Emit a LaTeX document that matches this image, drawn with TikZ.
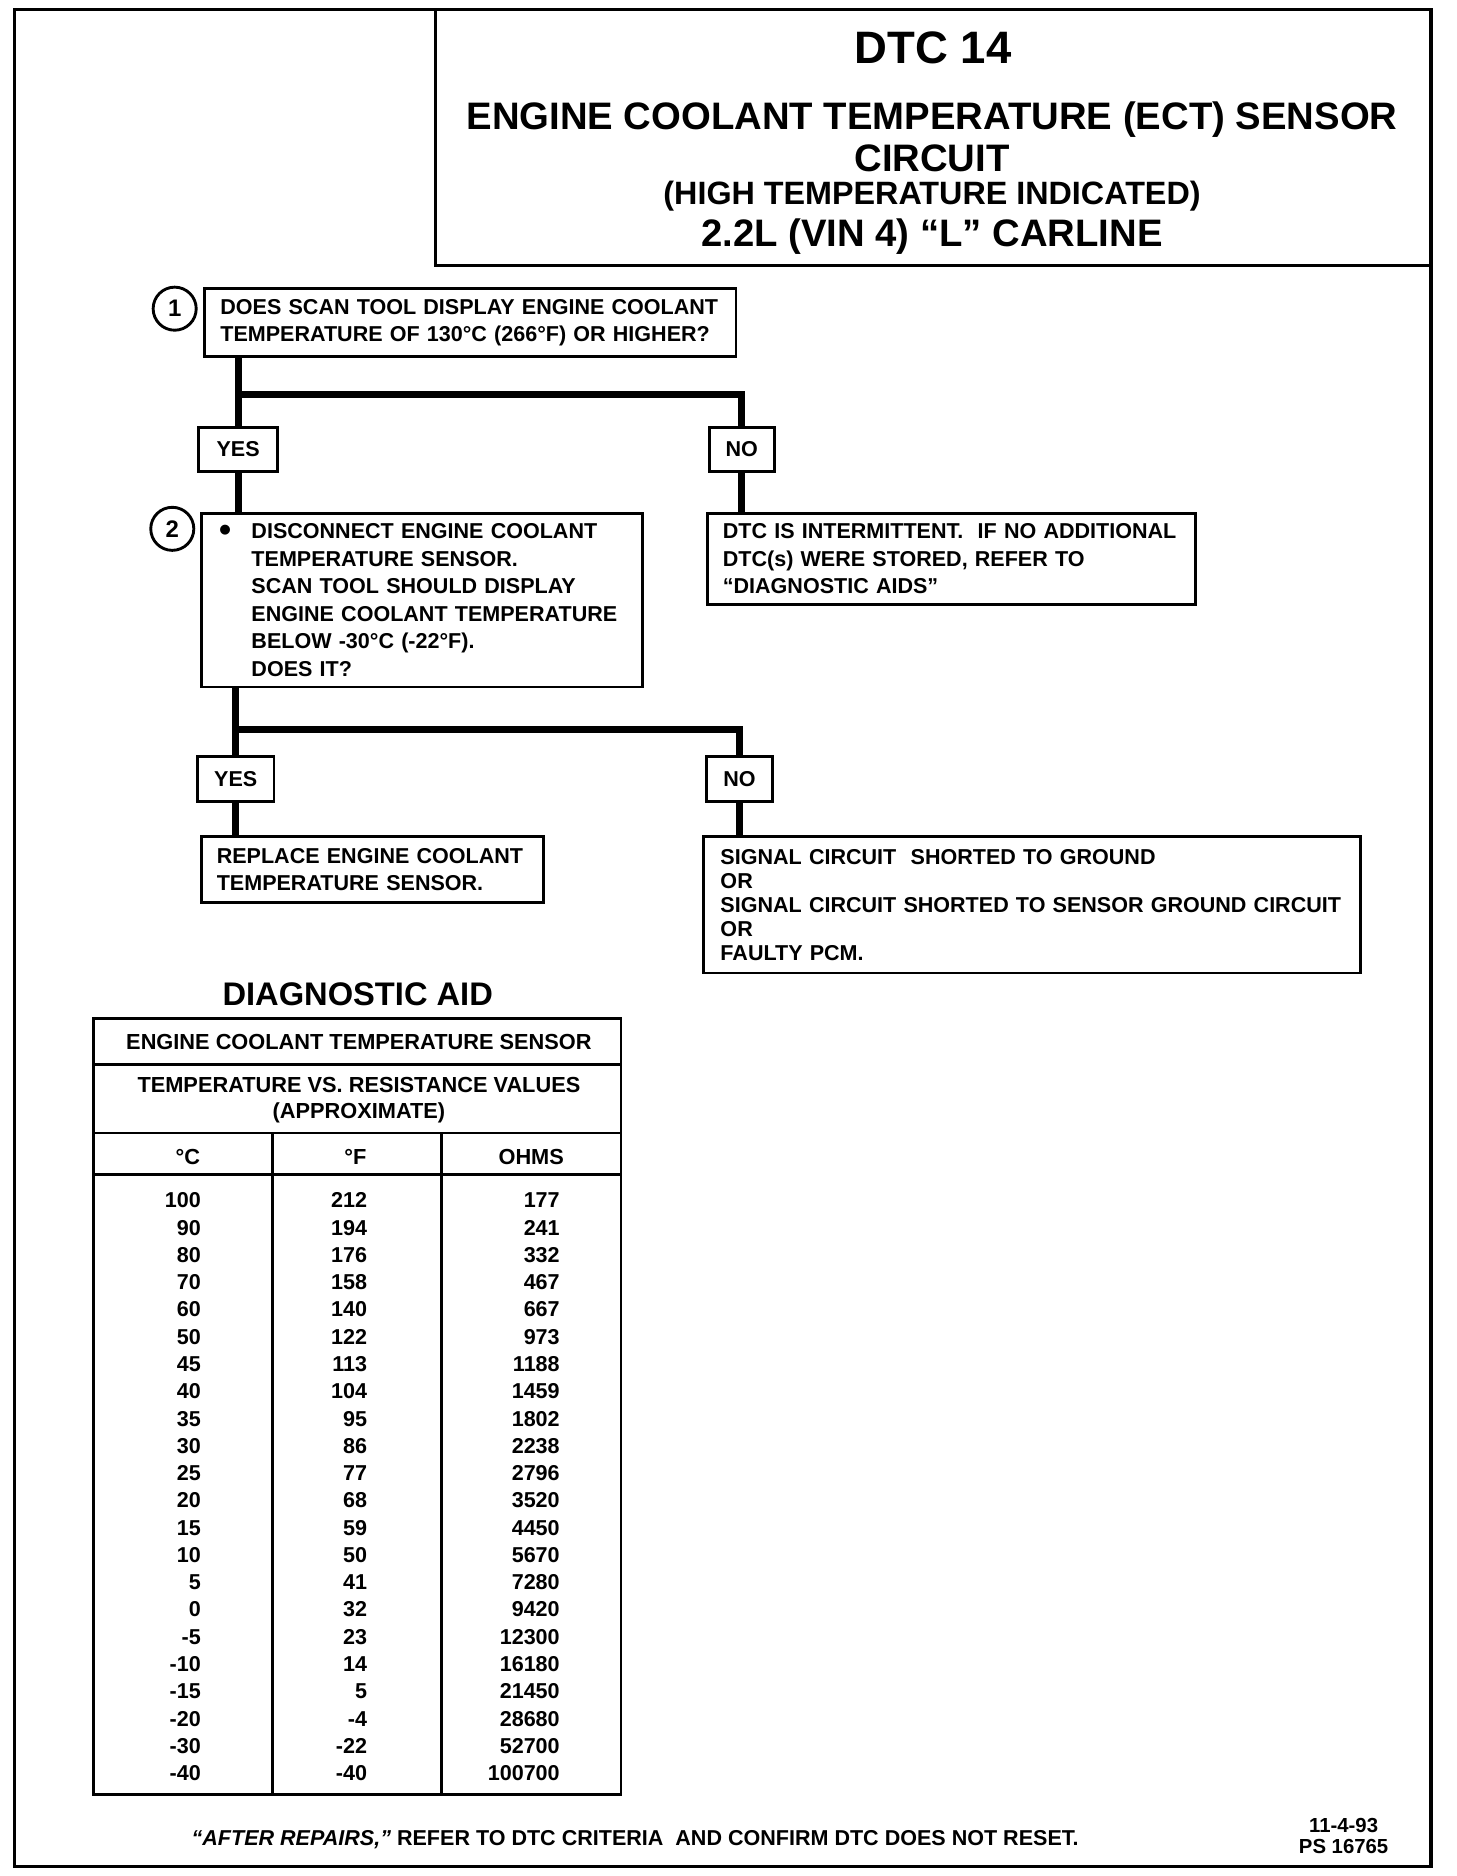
\documentclass[tikz,border=0pt]{standalone}
\usepackage{fontspec}
\setmainfont{Liberation Sans}
\begin{document}
\begin{tikzpicture}[x=1pt,y=-1pt,
  every node/.style={font=\bfseries},
  frame/.style={line width=3pt},
  box/.style={draw,line width=2.4pt,anchor=north west,inner xsep=13pt,inner ysep=0pt,align=left,
    font=\bfseries\fontsize{18}{23}\selectfont},
  lbl/.style={draw,line width=2.4pt,inner sep=0pt,font=\bfseries\fontsize{18}{23}\selectfont},
  conn/.style={line width=6pt},
  num/.style={draw,circle,line width=2.4pt,minimum size=36pt,inner sep=0pt,font=\bfseries\fontsize{20}{20}\selectfont},
  tline/.style={line width=2.4pt},
  tv/.style={anchor=base east,inner sep=0pt,font=\bfseries\fontsize{18}{18}\selectfont}
]
\useasboundingbox (0,0) rectangle (1217,1568);
% outer frame and title box
\draw[frame] (12,8) rectangle (1196,1560);
\draw[frame] (364,8) rectangle (1196,222);
\node[inner sep=0pt,font=\bfseries\fontsize{38}{38}\selectfont] (t1) at (780,40) {DTC 14};
\node[inner sep=0pt,font=\bfseries\fontsize{32}{32}\selectfont] (t2) at (779,100) {ENGINE COOLANT TEMPERATURE (ECT) SENSOR};
\node[inner sep=0pt,font=\bfseries\fontsize{32}{32}\selectfont] (t3) at (779,132) {CIRCUIT};
\node[inner sep=0pt,font=\bfseries\fontsize{27}{27}\selectfont] (t4) at (779,164) {(HIGH TEMPERATURE INDICATED)};
\node[inner sep=0pt,font=\bfseries\fontsize{32}{32}\selectfont] (t5) at (779,198) {2.2L (VIN 4) “L” CARLINE};

% step 1
\node[num] (n1) at (146,258) {1};
\node[box,minimum height=57pt,text width=418pt] (b1) at (170,240)
  {DOES SCAN TOOL DISPLAY ENGINE COOLANT\\TEMPERATURE OF 130°C (266°F) OR HIGHER?};
\coordinate (j1) at (199,330);
\node[lbl,minimum width=66pt,minimum height=37pt] (yes1) at (199,375.5) {YES};
\node[lbl,minimum width=54pt,minimum height=37pt] (no1) at (620,375.5) {NO};

% step 2
\node[num] (n2) at (144,442) {2};
\node[box,minimum height=145pt,text width=343pt] (b2) at (167,428)
  {\makebox[29pt][l]{\hspace*{2pt}\raisebox{-2.5pt}{\scalebox{1.6}{•}}}DISCONNECT ENGINE COOLANT\\
   \hspace*{29pt}TEMPERATURE SENSOR.\\
   \hspace*{29pt}SCAN TOOL SHOULD DISPLAY\\
   \hspace*{29pt}ENGINE COOLANT TEMPERATURE\\
   \hspace*{29pt}BELOW -30°C (-22°F).\\
   \hspace*{29pt}DOES IT?};
\node[box,minimum height=76pt,text width=382pt] (b3) at (590,428)
  {DTC IS INTERMITTENT.\ \ IF NO ADDITIONAL\\DTC(s) WERE STORED, REFER TO\\“DIAGNOSTIC AIDS”};

\coordinate (j2) at (197,610);
\node[lbl,minimum width=64pt,minimum height=38pt] (yes2) at (197,651) {YES};
\node[lbl,minimum width=55pt,minimum height=38pt] (no2) at (618,651) {NO};

\node[box,minimum height=55pt,text width=260pt] (b4) at (167,698)
  {REPLACE ENGINE COOLANT\\TEMPERATURE SENSOR.};
\node[box,minimum height=114pt,text width=521pt,inner xsep=14pt,font=\bfseries\fontsize{18}{20}\selectfont] (b5) at (587,698)
  {SIGNAL CIRCUIT\ \ SHORTED TO GROUND\\OR\\SIGNAL CIRCUIT SHORTED TO SENSOR GROUND CIRCUIT\\OR\\FAULTY PCM.};

% connectors
\draw[conn] (b1.south -| j1) -- (j1) -| (no1.north);
\draw[conn] (j1) -- (yes1.north);
\draw[conn] (yes1.south) -- (yes1.south |- b2.north);
\draw[conn] (no1.south) -- (no1.south |- b3.north);
\draw[conn] (b2.south -| j2) -- (j2) -| (no2.north);
\draw[conn] (j2) -- (yes2.north);
\draw[conn] (yes2.south) -- (yes2.south |- b4.north);
\draw[conn] (no2.south) -- (no2.south |- b5.north);

% diagnostic aid table
\node[inner sep=0pt,font=\bfseries\fontsize{27.3}{28}\selectfont] (da) at (299,831) {DIAGNOSTIC AID};
\draw[tline] (78,851) rectangle (519,1500);
\draw[tline] (78,890) -- (519,890);
\draw[tline] (78,947) -- (519,947);
\draw[tline] (78,982) -- (519,982);
\draw[tline] (228,947) -- (228,1500);
\draw[tline] (369,947) -- (369,1500);
\node[inner sep=0pt,font=\bfseries\fontsize{18.2}{21}\selectfont] (h1) at (300,871) {ENGINE COOLANT TEMPERATURE SENSOR};
\node[inner sep=0pt,align=center,font=\bfseries\fontsize{18.2}{21}\selectfont] (h2) at (300,919.5) {TEMPERATURE VS. RESISTANCE VALUES\\(APPROXIMATE)};
\node[inner sep=0pt,font=\bfseries\fontsize{18.2}{21}\selectfont] (hc) at (157,967) {°C};
\node[inner sep=0pt,font=\bfseries\fontsize{18.2}{21}\selectfont] (hf) at (297,967) {°F};
\node[inner sep=0pt,font=\bfseries\fontsize{18.2}{21}\selectfont] (ho) at (444,967) {OHMS};
\foreach \c/\f/\o [count=\i from 0] in {100/212/177,90/194/241,80/176/332,70/158/467,60/140/667,50/122/973,45/113/1188,40/104/1459,35/95/1802,30/86/2238,25/77/2796,20/68/3520,15/59/4450,10/50/5670,5/41/7280,0/32/9420,-5/23/12300,-10/14/16180,-15/5/21450,-20/-4/28680,-30/-22/52700,-40/-40/100700}{
  \node[tv] (rc\i) at (168,1009.5+22.8*\i) {\c};
  \node[tv] (rf\i) at (307,1009.5+22.8*\i) {\f};
  \node[tv] (ro\i) at (468,1009.5+22.8*\i) {\o};
}

% footer
\node[anchor=west,inner sep=0pt,font=\bfseries\fontsize{18}{18}\selectfont] (ft) at (160,1538)
  {\textit{“AFTER REPAIRS,”} REFER TO DTC CRITERIA\ \ AND CONFIRM DTC DOES NOT RESET.};
\node[inner sep=0pt,align=center,font=\bfseries\fontsize{17}{17}\selectfont] (id) at (1123,1534.5) {11-4-93\\PS 16765};
\end{tikzpicture}
\end{document}
